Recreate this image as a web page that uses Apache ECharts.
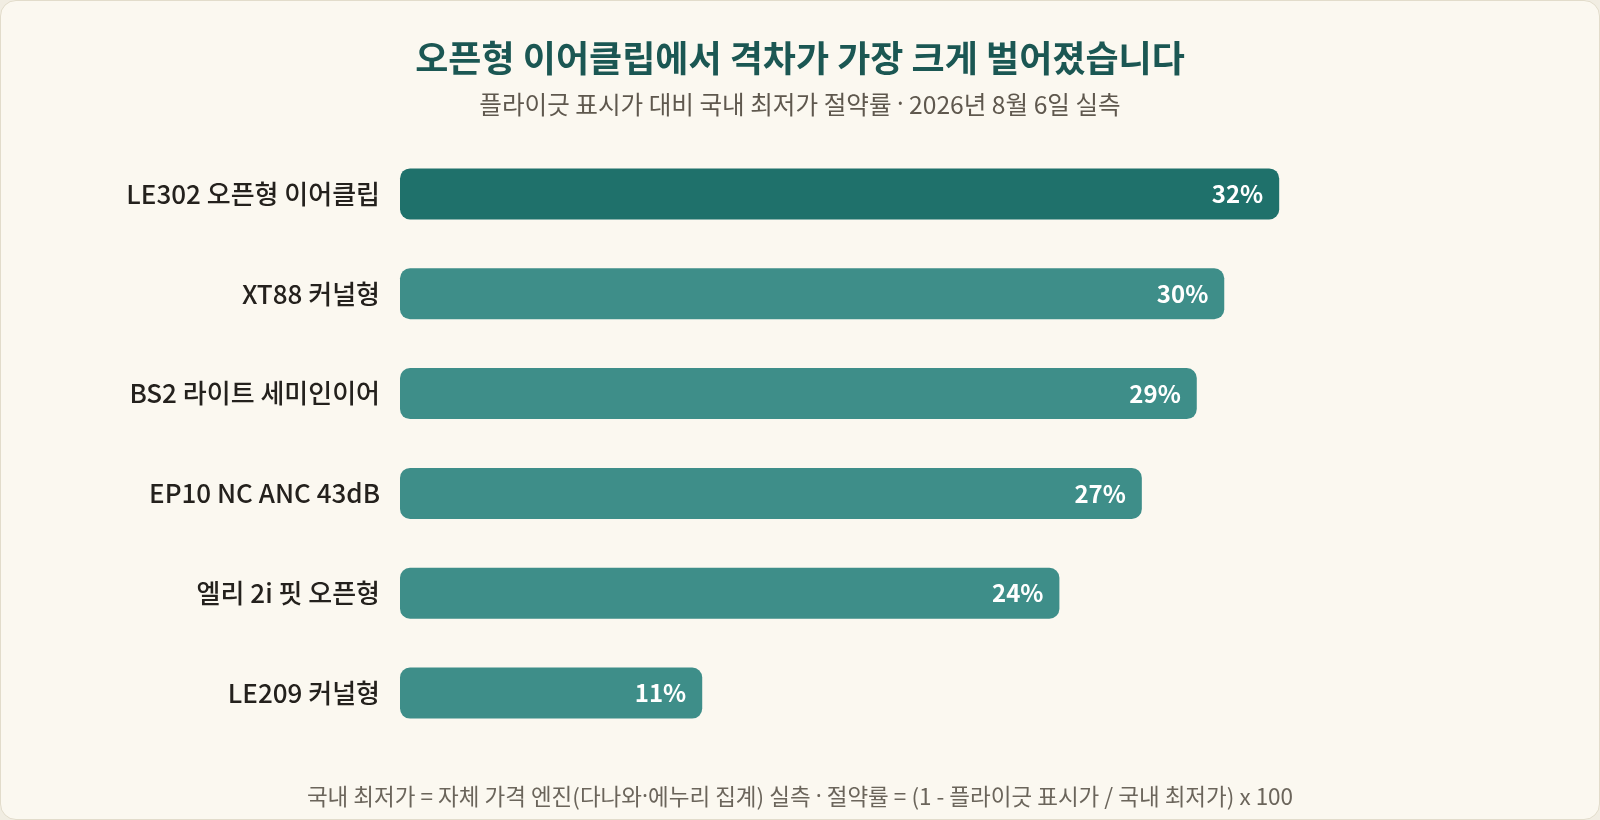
<!DOCTYPE html>
<html>
<head>
<meta charset="utf-8">
<script src="https://cdn.jsdelivr.net/npm/echarts@6/dist/echarts.min.js"></script>
<style>
  html, body { margin: 0; padding: 0; background: #f1ede2; }
  #main {
    width: 1600px; height: 820px; box-sizing: border-box;
    background: #fbf8f0; border: 1px solid #e2dccb; border-radius: 16px;
  }
</style>
</head>
<body>
<div id="main"></div>
<script>
var categories = ['LE302 오픈형 이어클립', 'XT88 커널형', 'BS2 라이트 세미인이어', 'EP10 NC ANC 43dB', '엘리 2i 핏 오픈형', 'LE209 커널형'];
var savings = [32, 30, 29, 27, 24, 11];
var highlight = 0; // 가장 큰 격차

var FONT = '"Noto Sans CJK KR", "Noto Sans", sans-serif';

// 가운뎃점은 CJK 폰트에서 전각으로 나와서 Noto Sans로 따로 찍는다
function dotRich(size, color) {
    return { d: { fontFamily: '"Noto Sans"', fontSize: size, color: color } };
}

var chart = echarts.init(document.getElementById('main'));

var option = {
    backgroundColor: 'transparent',
    textStyle: { fontFamily: FONT },
    title: [{
        text: '오픈형 이어클립에서 격차가 가장 크게 벌어졌습니다',
        left: 'center',
        top: 34,
        textStyle: { fontFamily: FONT, fontSize: 36, fontWeight: 'bold', color: '#1b5753' }
    }, {
        text: '플라이긋 표시가 대비 국내 최저가 절약률 {d|·} 2026년 8월 6일 실측',
        left: 'center',
        top: 86,
        textStyle: { fontFamily: FONT, fontSize: 24.6, fontWeight: 'normal', color: '#5f584e', rich: dotRich(24.6, '#5f584e') }
    }, {
        text: '국내 최저가 = 자체 가격 엔진(다나와{d|·}에누리 집계) 실측 {d|·} 절약률 = (1 - 플라이긋 표시가 / 국내 최저가) x 100',
        left: 'center',
        top: 779,
        textStyle: { fontFamily: FONT, fontSize: 22.5, fontWeight: 'normal', color: '#6b655b', rich: dotRich(22.5, '#6b655b') }
    }],
    grid: { left: 399, right: 100, top: 143, bottom: 76, containLabel: false },
    xAxis: {
        type: 'value',
        min: 0,
        max: 40,
        show: false
    },
    yAxis: {
        type: 'category',
        data: categories,
        inverse: true,
        axisLine: { show: false },
        axisTick: { show: false },
        axisLabel: {
            margin: 20,
            fontFamily: FONT,
            fontSize: 26,
            fontWeight: 500,
            color: '#24211d'
        }
    },
    series: [{
        type: 'bar',
        barWidth: 51,
        data: savings.map(function (v, i) {
            return {
                value: v,
                itemStyle: { color: i === highlight ? '#1f716b' : '#3e8e89' }
            };
        }),
        itemStyle: { borderRadius: 10 },
        label: {
            show: true,
            position: 'insideRight',
            distance: 16,
            formatter: '{c}%',
            fontFamily: FONT,
            fontSize: 24,
            fontWeight: 'bold',
            color: '#ffffff'
        },
        silent: true
    }]
};

chart.setOption(option);
</script>
</body>
</html>
